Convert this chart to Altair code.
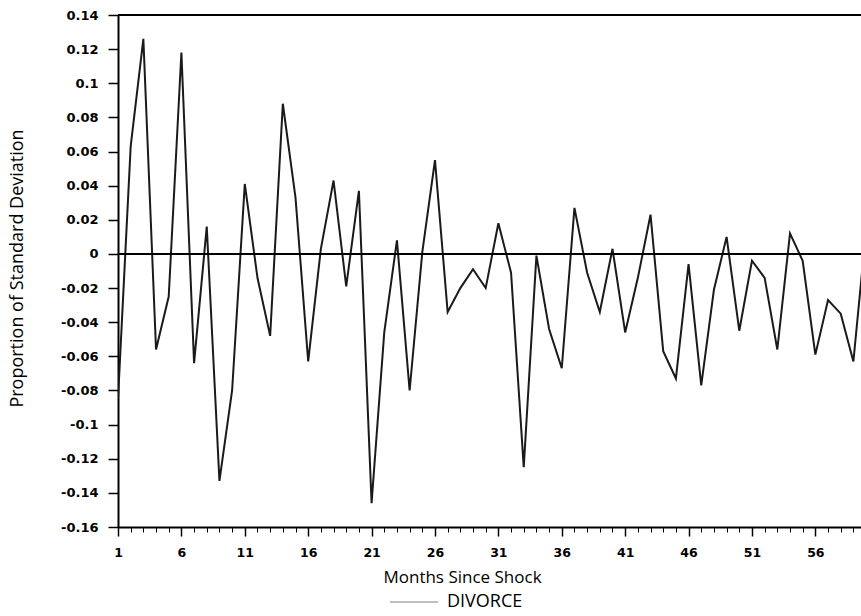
import altair as alt
import pandas as pd

months = list(range(1, 61))
divorce = [
    -0.085, 0.063, 0.126, -0.056, -0.025, 0.118, -0.064, 0.016, -0.133, -0.080,
    0.041, -0.014, -0.048, 0.088, 0.033, -0.063, 0.003, 0.043, -0.019, 0.037,
    -0.146, -0.046, 0.008, -0.080, 0.001, 0.055, -0.034, -0.020, -0.009, -0.020,
    0.018, -0.011, -0.125, -0.001, -0.044, -0.067, 0.027, -0.011, -0.034, 0.003,
    -0.046, -0.014, 0.023, -0.057, -0.073, -0.006, -0.077, -0.021, 0.010, -0.045,
    -0.004, -0.014, -0.056, 0.012, -0.004, -0.059, -0.027, -0.035, -0.063, 0.014,
]
series_name = "DIVORCE"
x_major_ticks = [1, 6, 11, 16, 21, 26, 31, 36, 41, 46, 51, 56]
x_minor_ticks = list(range(1, 60))
y_ticks = [0.14, 0.12, 0.1, 0.08, 0.06, 0.04, 0.02, 0, -0.02, -0.04, -0.06,
           -0.08, -0.1, -0.12, -0.14, -0.16]

df = pd.DataFrame({"month": months, "value": divorce, "series": series_name})

TICK_FONT = "DejaVu Sans"
TITLE_FONT = "Open Sans"

xscale = alt.Scale(domain=[1, 59.6], nice=False, zero=False)
yscale = alt.Scale(domain=[-0.16, 0.14], nice=False, zero=False)

major_x_axis = alt.Axis(
    values=x_major_ticks, orient="bottom", title="Months Since Shock",
    grid=False, domain=True, domainColor="black", domainWidth=2,
    ticks=True, tickSize=9, tickWidth=1.5, tickColor="black",
    labelFont=TICK_FONT, labelFontWeight="bold", labelFontSize=12.5,
    labelColor="black", labelPadding=10, labelFlush=False,
    titleFont=TITLE_FONT, titleFontSize=17, titleFontWeight="normal",
    titleColor="black", titlePadding=11, titleX=344, titleAnchor="start",
    titleAlign="center",
)
minor_x_axis = alt.Axis(
    values=x_minor_ticks, orient="bottom", title=None, labels=False,
    grid=False, domain=False, ticks=True, tickSize=5, tickWidth=1,
    tickColor="black",
)
y_axis = alt.Axis(
    values=y_ticks, orient="left", title="Proportion of Standard Deviation",
    grid=False, domain=True, domainColor="black", domainWidth=2,
    ticks=True, tickSize=10, tickWidth=1.5, tickColor="black",
    labelFont=TICK_FONT, labelFontWeight="bold", labelFontSize=13,
    labelColor="black", labelPadding=10,
    labelExpr="replace(format(datum.value, '.2~f'), '\u2212', '-')",
    titleFont=TITLE_FONT, titleFontSize=18, titleFontWeight="normal",
    titleColor="black", titleX=-101, titleY=253, titleAngle=270,
    titleAlign="center", titleBaseline="middle",
)

line = alt.Chart(df).mark_line(strokeWidth=2, clip=True).encode(
    x=alt.X("month:Q", scale=xscale, axis=major_x_axis),
    y=alt.Y("value:Q", scale=yscale, axis=y_axis),
    color=alt.Color(
        "series:N",
        scale=alt.Scale(domain=[series_name], range=["#1a1a1a"]),
        legend=alt.Legend(
            title=None, orient="none", legendX=271, legendY=562,
            symbolType="stroke", symbolSize=2304, symbolStrokeWidth=1.2,
            symbolOpacity=0.55, labelFont=TITLE_FONT, labelFontSize=18,
            labelColor="black", labelOffset=8, padding=0,
        ),
    ),
)

minor = alt.Chart(df).mark_point(opacity=0).encode(
    x=alt.X("month:Q", scale=xscale, axis=minor_x_axis),
    y=alt.Y("value:Q", scale=yscale, axis=y_axis),
)

zero_rule = alt.Chart(df).mark_rule(color="black", strokeWidth=1.5).encode(
    y=alt.YDatum(0, type="quantitative", scale=yscale, axis=y_axis)
)
top_rule = alt.Chart(df).mark_rule(color="black", strokeWidth=2).encode(
    y=alt.YDatum(0.14, type="quantitative", scale=yscale, axis=y_axis)
)

chart = (
    alt.layer(line, minor, zero_rule, top_rule)
    .resolve_axis(x="independent")
    .properties(
        width=743, height=512,
        autosize=alt.AutoSizeParams(type="none"),
        padding={"left": 118, "top": 15, "right": 0, "bottom": 89},
        background="white",
    )
    .configure_view(stroke=None)
)

chart.save("out.html", embed_options={"renderer": "svg", "actions": False})
